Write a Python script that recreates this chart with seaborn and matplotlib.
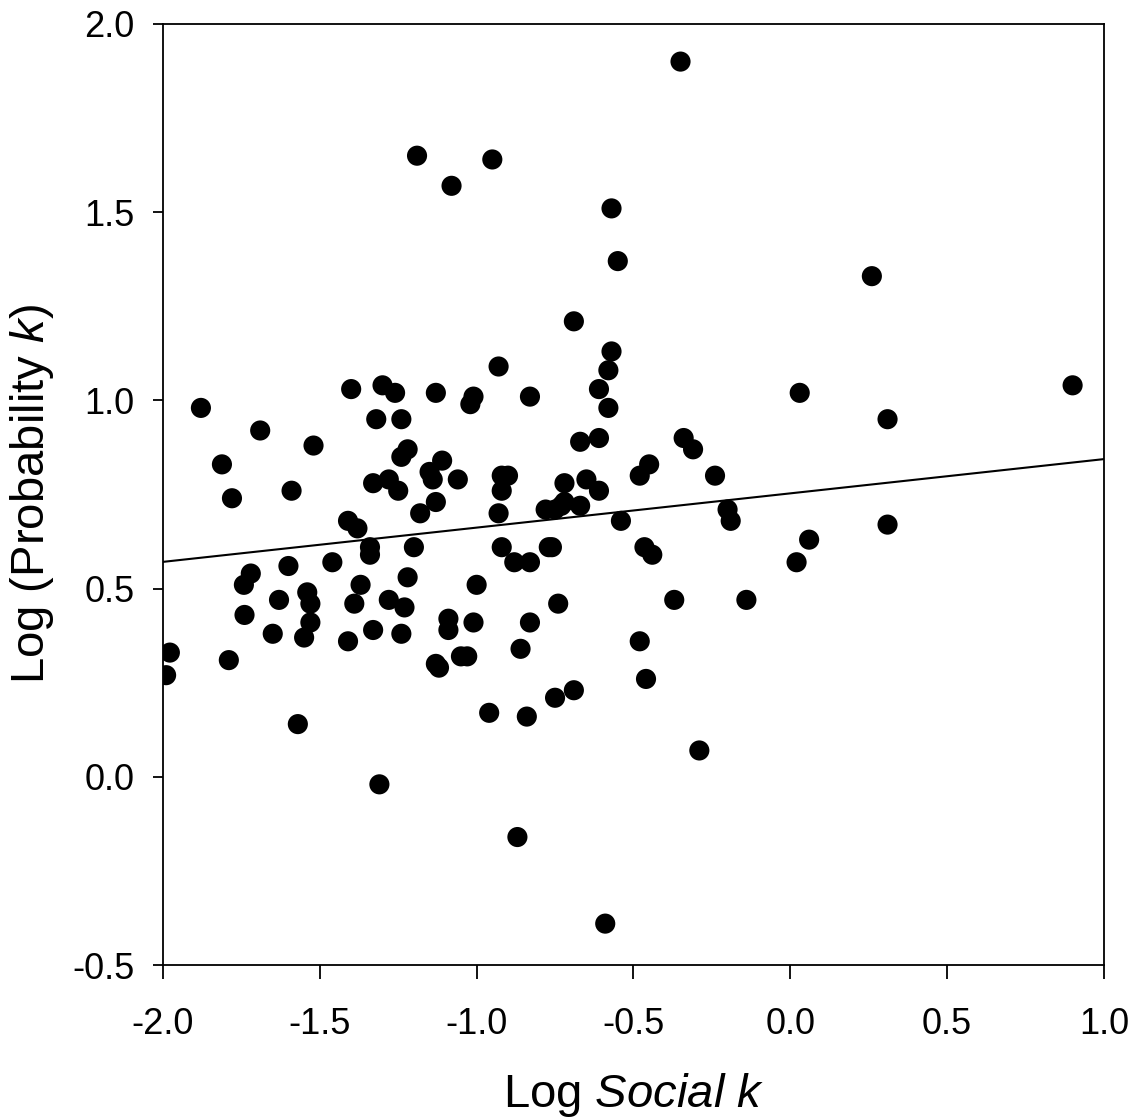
import matplotlib
matplotlib.use("Agg")
import matplotlib.pyplot as plt
import seaborn as sns
import pandas as pd

# Log social discounting rate k versus log probability discounting rate k
log_social_k = [
    -1.99, -1.978, -1.879, -1.812, -1.78, -1.79, -1.69, -1.72, -1.742, -1.74,
    -1.65, -1.63, -1.60, -1.59, -1.57, -1.55, -1.54, -1.53, -1.53, -1.52,
    -1.46, -1.41, -1.41, -1.40, -1.39, -1.38, -1.37, -1.34, -1.34, -1.33,
    -1.33, -1.32, -1.31, -1.30, -1.28, -1.28, -1.26, -1.25, -1.24, -1.24,
    -1.24, -1.23, -1.22, -1.22, -1.20, -1.19, -1.18, -1.15, -1.14, -1.13,
    -1.13, -1.13, -1.12, -1.11, -1.09, -1.09, -1.08, -1.06, -1.05, -1.03,
    -1.02, -1.01, -1.00, -1.01, -0.96, -0.95, -0.93, -0.93, -0.92, -0.92,
    -0.92, -0.90, -0.88, -0.87, -0.86, -0.84, -0.83, -0.83, -0.83, -0.78,
    -0.77, -0.76, -0.75, -0.75, -0.74, -0.73, -0.72, -0.72, -0.69, -0.69,
    -0.67, -0.67, -0.65, -0.61, -0.61, -0.61, -0.59, -0.58, -0.58, -0.57,
    -0.57, -0.55, -0.54, -0.48, -0.48, -0.465, -0.46, -0.45, -0.44, -0.37,
    -0.35, -0.34, -0.31, -0.29, -0.24, -0.20, -0.19, -0.14, 0.02, 0.03,
    0.06, 0.26, 0.31, 0.31, 0.90,
]
log_probability_k = [
    0.27, 0.33, 0.98, 0.83, 0.74, 0.31, 0.92, 0.54, 0.51, 0.43,
    0.38, 0.47, 0.56, 0.76, 0.14, 0.37, 0.49, 0.46, 0.41, 0.88,
    0.57, 0.68, 0.36, 1.03, 0.46, 0.66, 0.51, 0.61, 0.59, 0.78,
    0.39, 0.95, -0.02, 1.04, 0.47, 0.79, 1.02, 0.76, 0.85, 0.95,
    0.38, 0.45, 0.53, 0.87, 0.61, 1.65, 0.70, 0.81, 0.79, 1.02,
    0.73, 0.30, 0.29, 0.84, 0.42, 0.39, 1.57, 0.79, 0.32, 0.32,
    0.99, 1.01, 0.51, 0.41, 0.17, 1.64, 1.09, 0.70, 0.76, 0.80,
    0.61, 0.80, 0.57, -0.16, 0.34, 0.16, 1.01, 0.57, 0.41, 0.71,
    0.61, 0.61, 0.71, 0.21, 0.46, 0.72, 0.78, 0.73, 1.21, 0.23,
    0.89, 0.72, 0.79, 0.90, 1.03, 0.76, -0.39, 1.08, 0.98, 1.51,
    1.13, 1.37, 0.68, 0.36, 0.80, 0.61, 0.26, 0.83, 0.59, 0.47,
    1.90, 0.90, 0.87, 0.07, 0.80, 0.71, 0.68, 0.47, 0.57, 1.02,
    0.63, 1.33, 0.95, 0.67, 1.04,
]

# Least-squares fit line endpoints
fit_x = [-2.0, 1.0]
fit_y = [0.571, 0.844]

x_ticks = [-2.0, -1.5, -1.0, -0.5, 0.0, 0.5, 1.0]
y_ticks = [-0.5, 0.0, 0.5, 1.0, 1.5, 2.0]

sns.set_theme(style="ticks")
plt.rcParams["font.family"] = ["Liberation Sans", "DejaVu Sans"]
plt.rcParams["mathtext.fontset"] = "custom"
plt.rcParams["mathtext.rm"] = "Liberation Sans"
plt.rcParams["mathtext.it"] = "Liberation Sans:italic"

df = pd.DataFrame({"social": log_social_k, "probability": log_probability_k})
fit = pd.DataFrame({"x": fit_x, "y": fit_y})

fig = plt.figure(figsize=(11.38, 11.19), dpi=100)
ax = fig.add_axes([0.1432, 0.1376, 0.9701 - 0.1432, 0.9786 - 0.1376])

sns.lineplot(data=fit, x="x", y="y", color="black", linewidth=1.5, ax=ax)
sns.scatterplot(data=df, x="social", y="probability", color="black",
                s=210, edgecolor="none", ax=ax, zorder=3)

ax.set_xlim(-2.0, 1.0)
ax.set_ylim(-0.5, 2.0)
ax.set_xticks(x_ticks)
ax.set_yticks(y_ticks)
ax.set_xticklabels([f"{t:.1f}" for t in x_ticks])
ax.set_yticklabels([f"{t:.1f}" for t in y_ticks])

for side in ["top", "right", "left", "bottom"]:
    ax.spines[side].set_visible(True)
    ax.spines[side].set_color("black")
    ax.spines[side].set_linewidth(1.3)

ax.tick_params(axis="both", direction="out", width=1.3, color="black",
               labelsize=26, labelcolor="black")
ax.tick_params(axis="x", length=10, pad=20)
ax.tick_params(axis="y", length=7, pad=13.5)

ax.set_xlabel(r"Log $\mathit{Social\ k}$", fontsize=34, labelpad=21, color="black")
ax.set_ylabel(r"Log (Probability $\mathit{k}$)", fontsize=34, labelpad=11.5, color="black")

fig.savefig("out.png", dpi=100, facecolor="white")
